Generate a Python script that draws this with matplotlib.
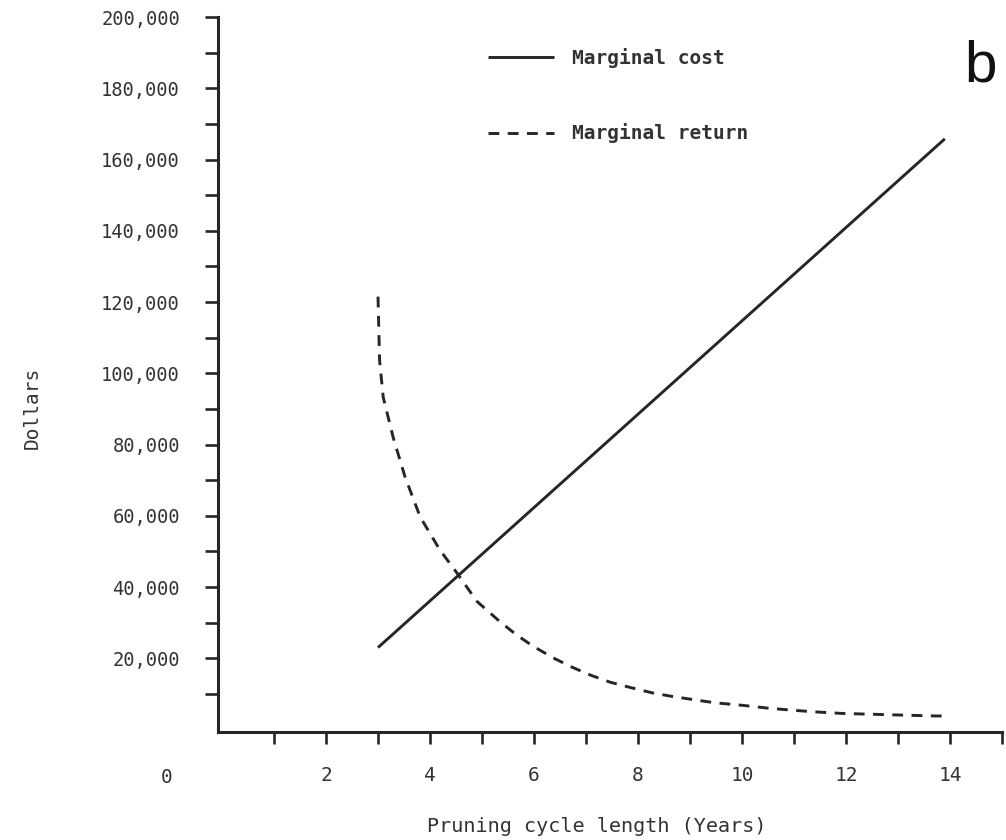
import matplotlib
matplotlib.use("Agg")
import matplotlib.pyplot as plt
from matplotlib.transforms import blended_transform_factory
from matplotlib.ticker import FixedLocator, FuncFormatter

# ---- data ----
cost_years = [3.0, 13.9]
cost_dollars = [23000, 165800]

return_years = [3.0, 3.03, 3.10, 3.29, 3.52, 3.81, 4.19, 4.52, 4.90, 5.35, 5.67,
                5.98, 6.37, 6.73, 7.08, 7.46, 7.85, 8.27, 8.65, 9.06, 9.48,
                10.0, 10.5, 10.98, 11.46, 11.94, 12.46, 12.94, 13.71, 13.9]
return_dollars = [121500, 103700, 93300, 82100, 70900, 59700, 50400, 43900, 36000,
                  30200, 26500, 23400, 20100, 17500, 15300, 13300, 11800, 10300,
                  9300, 8400, 7500, 6800, 6000, 5400, 4900, 4500, 4300, 4100,
                  3800, 3800]

y_major = [20000, 40000, 60000, 80000, 100000, 120000, 140000, 160000, 180000, 200000]
x_label_ticks = [2, 4, 6, 8, 10, 12, 14]

series_labels = ["Marginal cost", "Marginal return"]
x_title = "Pruning cycle length (Years)"
y_title = "Dollars"
panel_letter = "b"

# ---- styling ----
ink = "#262626"
txt = "#333333"
mono = ["DejaVu Sans Mono"]

fig = plt.figure(figsize=(10.06, 8.4), dpi=100)
ax = fig.add_axes([218 / 1006, 1 - 732 / 840, (1002 - 218) / 1006, (732 - 17) / 840])

ax.plot(cost_years, cost_dollars, color=ink, lw=2.1, solid_capstyle="butt",
        label=series_labels[0])
ax.plot(return_years, return_dollars, color=ink, lw=2.1, dashes=(3.7, 2.9),
        label=series_labels[1])

ax.set_xlim(-0.077, 15)
ax.set_ylim(-700, 200000)

for s in ["top", "right"]:
    ax.spines[s].set_visible(False)
for s in ["left", "bottom"]:
    ax.spines[s].set_linewidth(2.2)
    ax.spines[s].set_color(ink)

# y ticks
ax.yaxis.set_major_locator(FixedLocator(y_major))
ax.yaxis.set_minor_locator(FixedLocator([v + 10000 for v in [0] + y_major[:-1]]))
ax.yaxis.set_major_formatter(FuncFormatter(lambda v, p: f"{int(v):,}"))
ax.tick_params(axis="y", which="both", direction="out", length=9.4, width=1.9,
               color=ink, pad=18, labelsize=13.5, labelcolor=txt)

# x ticks
ax.xaxis.set_major_locator(FixedLocator(x_label_ticks))
ax.xaxis.set_minor_locator(FixedLocator([1, 3, 5, 7, 9, 11, 13, 15]))
ax.tick_params(axis="x", which="both", direction="out", length=8.5, width=1.9,
               color=ink, pad=16, labelsize=14, labelcolor=txt)
for lab in ax.get_xticklabels() + ax.get_yticklabels():
    lab.set_family(mono)

# "0" at the corner
trans = blended_transform_factory(ax.transData, ax.transAxes)
ax.text(-1.06, -0.063, "0", transform=trans, ha="center", va="center",
        fontsize=14, color=txt, family=mono)

fig.text(597 / 1006, 1 - 826 / 840, x_title, ha="center", va="center",
         fontsize=14.5, color=txt, family=mono)
fig.text(32 / 1006, 1 - 408 / 840, y_title, ha="center", va="center",
         rotation=90, fontsize=14, color=txt, family=mono)

fig.text(981 / 1006, 1 - 66 / 840, panel_letter, ha="center", va="center",
         fontsize=42, color="#111111", family=["Liberation Sans"])

leg = ax.legend(loc="upper left", bbox_to_anchor=(488 / 1006, 1 - 48 / 840),
                bbox_transform=fig.transFigure, frameon=False,
                prop={"family": mono, "size": 14, "weight": "bold"},
                handlelength=3.4, handletextpad=0.9, labelspacing=2.85,
                borderaxespad=0, borderpad=0)
for t in leg.get_texts():
    t.set_color(txt)

fig.savefig("out.png", dpi=100, facecolor="white")
